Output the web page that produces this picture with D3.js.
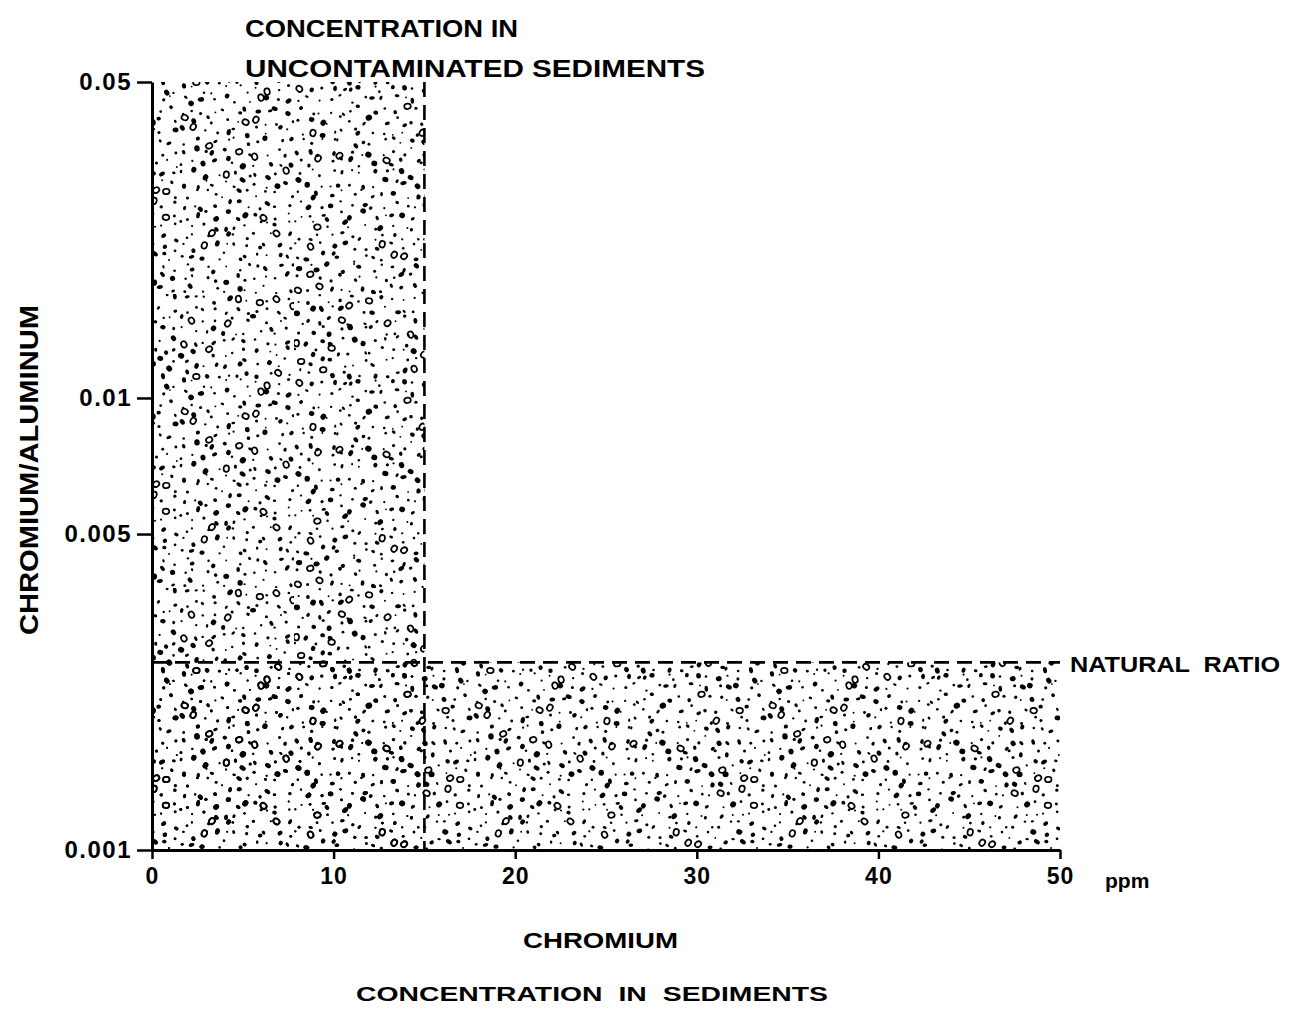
<!DOCTYPE html>
<html>
<head>
<meta charset="utf-8">
<script src="https://cdn.jsdelivr.net/npm/d3@7"></script>
<style>
  html, body { margin: 0; padding: 0; background: #fff; }
  svg { display: block; }
  text { font-family: "Liberation Sans", Arial, Helvetica, sans-serif; font-weight: bold; fill: #000; }
</style>
</head>
<body>
<svg id="chart" width="1295" height="1017"></svg>
<script>
// Axis extents and tick values
const xDomain = [0, 50];            // ppm chromium
const yDomain = [0.001, 0.05];      // chromium / aluminum ratio
const xTicks = [0, 10, 20, 30, 40, 50];
const xTickLabels = ["0", "10", "20", "30", "40", "50"];
const yTicks = [0.05, 0.01, 0.005, 0.001];
const yTickLabels = ["0.05", "0.01", "0.005", "0.001"];

// Reference levels
const uncontaminatedMax = 15;       // ppm Cr in uncontaminated sediments
const naturalRatio = 0.0026;        // natural Cr/Al ratio

// Shaded domains: [xMin, xMax, yMin, yMax]
const regionNames = ["uncontaminated", "natural"];
const regionX0 = [0, 0];
const regionX1 = [uncontaminatedMax, 50];
const regionY0 = [0.001, 0.001];
const regionY1 = [0.05, naturalRatio];

const svg = d3.select("#chart");

const x = d3.scaleLinear().domain(xDomain).range([152, 1060]);
const y = d3.scaleLog().domain(yDomain).range([850, 82]);

// ---- stipple texture: jittered grid of specks, fixed seed ----
const defs = svg.append("defs");
const cell = 10.5, nCells = 28, tile = cell * nCells;
const pat = defs.append("pattern")
  .attr("id", "stipple")
  .attr("patternUnits", "userSpaceOnUse")
  .attr("width", tile).attr("height", tile);
const rnd = d3.randomLcg(0.4217);
for (let i = 0; i < nCells; i++) {
  for (let j = 0; j < nCells; j++) {
    const cx = (i + 0.5 + (rnd() - 0.5) * 0.85) * cell;
    const cy = (j + 0.5 + (rnd() - 0.5) * 0.85) * cell;
    const kind = rnd();
    const ang = rnd() * 180;
    if (kind < 0.42) {
      pat.append("circle").attr("cx", cx).attr("cy", cy)
        .attr("r", 0.9 + rnd() * 0.7).attr("fill", "#000");
    } else if (kind < 0.93) {
      const rx = 1.6 + rnd() * 1.7;
      pat.append("ellipse").attr("cx", 0).attr("cy", 0)
        .attr("rx", rx).attr("ry", rx * (0.6 + rnd() * 0.35))
        .attr("transform", `translate(${cx},${cy}) rotate(${ang})`)
        .attr("fill", "#000");
    } else {
      pat.append("ellipse").attr("cx", 0).attr("cy", 0)
        .attr("rx", 3.3).attr("ry", 2.7)
        .attr("transform", `translate(${cx},${cy}) rotate(${ang})`)
        .attr("fill", "none").attr("stroke", "#000").attr("stroke-width", 1.7);
    }
  }
}

// ---- shaded regions ----
svg.append("g").selectAll("rect")
  .data(regionNames.map((n, i) => ({ n, x0: regionX0[i], x1: regionX1[i], y0: regionY0[i], y1: regionY1[i] })))
  .join("rect")
  .attr("x", d => x(d.x0))
  .attr("y", d => y(d.y1))
  .attr("width", d => x(d.x1) - x(d.x0))
  .attr("height", d => y(d.y0) - y(d.y1))
  .attr("fill", "url(#stipple)");

// ---- dashed boundaries ----
const dash = svg.append("g").attr("stroke", "#000").attr("stroke-width", 2.6)
  .attr("stroke-dasharray", "15,8").attr("fill", "none");
dash.append("line")
  .attr("x1", x(uncontaminatedMax)).attr("x2", x(uncontaminatedMax))
  .attr("y1", y(yDomain[1])).attr("y2", y(yDomain[0]));
dash.append("line")
  .attr("x1", x(xDomain[0])).attr("x2", x(xDomain[1]))
  .attr("y1", y(naturalRatio)).attr("y2", y(naturalRatio));

// ---- axes ----
const yAxis = d3.axisLeft(y).tickValues(yTicks)
  .tickFormat((d, i) => yTickLabels[i]).tickSizeInner(15).tickSizeOuter(0).tickPadding(5);
const gy = svg.append("g").attr("transform", `translate(${x(0)},0)`).call(yAxis);

const xAxis = d3.axisBottom(x).tickValues(xTicks)
  .tickFormat((d, i) => xTickLabels[i]).tickSizeInner(9).tickSizeOuter(0).tickPadding(9);
const gx = svg.append("g").attr("transform", `translate(0,${y(yDomain[0])})`).call(xAxis);

[gx, gy].forEach(g => {
  g.attr("font-size", null).attr("font-family", null);
  g.select(".domain").attr("stroke", "#000").attr("stroke-width", 3);
  g.selectAll(".tick line").attr("stroke", "#000").attr("stroke-width", 2.5);
  g.selectAll(".tick text")
    .style("font-family", '"Liberation Sans", Arial, sans-serif')
    .style("font-weight", "bold")
    .attr("fill", "#000");
});
gy.selectAll(".tick text").style("font-size", "24px").style("letter-spacing", "1.5px");
gx.selectAll(".tick text").style("font-size", "23px").style("letter-spacing", "1px").attr("dy", "0.71em");

// ---- labels ----
svg.append("text").attr("x", 1105).attr("y", 888).style("font-size", "21px").text("ppm");

svg.append("text").attr("x", 245).attr("y", 37).style("font-size", "23px")
  .attr("textLength", 273).attr("lengthAdjust", "spacingAndGlyphs").text("CONCENTRATION IN");
svg.append("text").attr("x", 245).attr("y", 77).style("font-size", "23px")
  .attr("textLength", 460).attr("lengthAdjust", "spacingAndGlyphs").text("UNCONTAMINATED SEDIMENTS");

svg.append("text").attr("x", 1070).attr("y", 672).style("font-size", "22px")
  .attr("textLength", 210).attr("lengthAdjust", "spacingAndGlyphs")
  .style("word-spacing", "6px").text("NATURAL RATIO");

svg.append("text").attr("x", 523).attr("y", 948).style("font-size", "22px")
  .attr("textLength", 155).attr("lengthAdjust", "spacingAndGlyphs").text("CHROMIUM");
svg.append("text").attr("x", 356).attr("y", 1001).style("font-size", "21px")
  .attr("textLength", 472).attr("lengthAdjust", "spacingAndGlyphs")
  .style("word-spacing", "6px").text("CONCENTRATION IN SEDIMENTS");

svg.append("text")
  .attr("transform", "translate(38,635) rotate(-90)")
  .style("font-size", "26px")
  .attr("textLength", 330).attr("lengthAdjust", "spacingAndGlyphs")
  .text("CHROMIUM/ALUMINUM");
</script>
</body>
</html>
